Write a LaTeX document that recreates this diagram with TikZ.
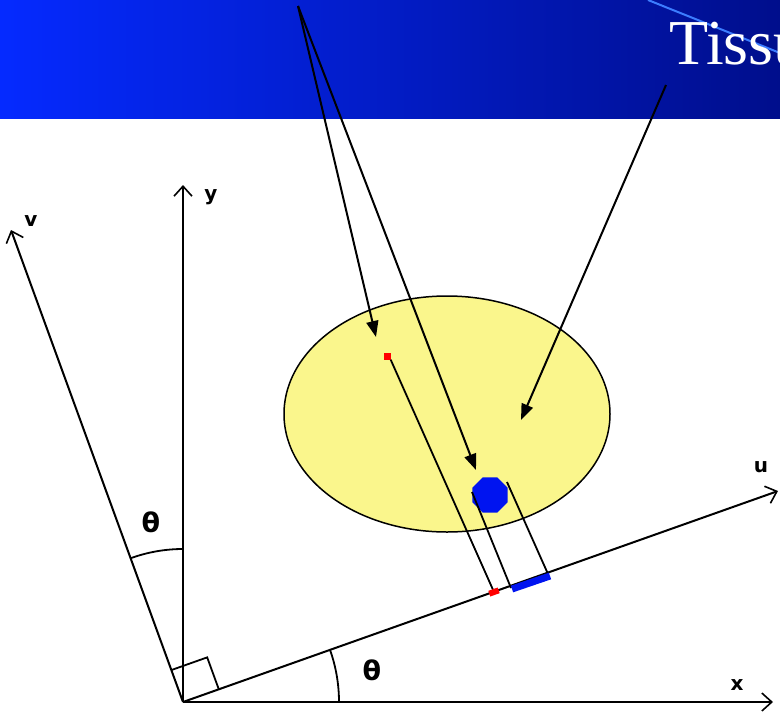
\documentclass[tikz,border=0pt]{standalone}
\usepackage{fontspec}
\setmainfont{Liberation Serif}
\newfontfamily\labfont{DejaVu Sans}
\usetikzlibrary{arrows.meta,shapes.geometric,calc}
\definecolor{tissueyellow}{RGB}{250,246,140}
\definecolor{blobblue}{RGB}{0,20,240}
\definecolor{dotred}{RGB}{255,0,0}
\definecolor{bannerleft}{RGB}{5,42,255}
\definecolor{bannerright}{RGB}{0,14,140}
\definecolor{streak}{RGB}{60,125,255}
\tikzset{
  axis/.style={draw=black, line width=2pt, -{Straight Barb[length=10pt,width=18pt,line width=1.6pt]}},
  thin line/.style={draw=black, line width=1.8pt},
  pointer/.style={draw=black, line width=2pt, -{Triangle[length=16pt,width=12pt]}},
  axlabel/.style={font=\labfont\bfseries\fontsize{20}{20}\selectfont, inner sep=0pt},
  thlabel/.style={font=\labfont\bfseries\fontsize{27}{27}\selectfont, inner sep=0pt},
}
\begin{document}
\begin{tikzpicture}[x=1pt,y=1pt]
\useasboundingbox (0,0) rectangle (780,-721);
\clip (0,0) rectangle (780,-721);
% banner
\shade[left color=bannerleft, right color=bannerright] (0,0) rectangle (780,-118);
\coordinate (st1) at (648,0);
\coordinate (st2) at (790,-57);
\draw[streak, line width=2pt] (st1) -- (st2);
\node[anchor=base west, text=white, inner sep=0pt, font=\fontsize{64}{64}\selectfont] (title) at (669,-64) {Tissu};
% axes
\coordinate (O) at (183,-702);
\coordinate (X) at (773,-702);
\coordinate (Y) at (183,-185);
\coordinate (U) at (778,-491);
\coordinate (V) at (11,-230);
% tissue ellipse
\node[ellipse, draw=black, line width=1.5pt, fill=tissueyellow, minimum width=326pt, minimum height=236pt, inner sep=0pt] (tissue) at (447,-414) {};
\draw[axis] (O) -- (X);
\draw[axis] (O) -- (Y);
\draw[axis] (O) -- (U);
\draw[axis] (O) -- (V);
% right angle mark
\coordinate (ra) at ($(O)+(110:34)$);
\coordinate (rb) at ($(O)+(19.5:38)$);
\coordinate (rc) at ($(ra)+(19.5:38)$);
\draw[thin line] (ra) -- (rc) -- (rb);
% angle arcs
\draw[thin line] ($(O)+(90:153)$) arc[start angle=90, end angle=110, radius=153pt];
\draw[thin line] ($(O)+(0:156)$) arc[start angle=0, end angle=19.5, radius=156pt];
% labels
\node[axlabel] (ly) at (211,-197) {y};
\node[axlabel] (lv) at (31,-221) {v};
\node[axlabel] (lu) at (761,-467) {u};
\node[axlabel] (lx) at (737,-685) {x};
\node[thlabel] (th1) at (151,-522) {θ};
\node[thlabel] (th2) at (372,-670) {θ};
% objects
\node[rectangle, fill=dotred, minimum width=7pt, minimum height=7pt, inner sep=0pt] (rp) at (387,-356) {};
\node[regular polygon, regular polygon sides=8, fill=blobblue, minimum size=38pt, inner sep=0pt] (blob) at (490,-495) {};
% projections
\coordinate (bl1) at (472,-492);
\coordinate (bl2) at (511,-588);
\coordinate (br1) at (507,-482);
\coordinate (br2) at (548,-574);
\coordinate (rq) at (494,-592);
\draw[thin line] (rp.south east) -- (rq);
\draw[thin line] (bl1) -- (bl2);
\draw[thin line] (br1) -- (br2);
\coordinate (bb1) at (512,-589);
\coordinate (bb2) at (550,-576);
\draw[blobblue, line width=7pt] (bb1) -- (bb2);
\node[rectangle, fill=dotred, minimum width=10pt, minimum height=6pt, inner sep=0pt, rotate=19.5] (rqn) at (rq) {};
% pointer arrows
\coordinate (s1) at (298,-6);
\coordinate (s2) at (666,-85);
\coordinate (t1) at (376,-337);
\coordinate (t2) at (476,-470);
\coordinate (t3) at (521,-420);
\draw[pointer] (s1) -- (t1);
\draw[pointer] (s1) -- (t2);
\draw[pointer] (s2) -- (t3);
\end{tikzpicture}
\end{document}
